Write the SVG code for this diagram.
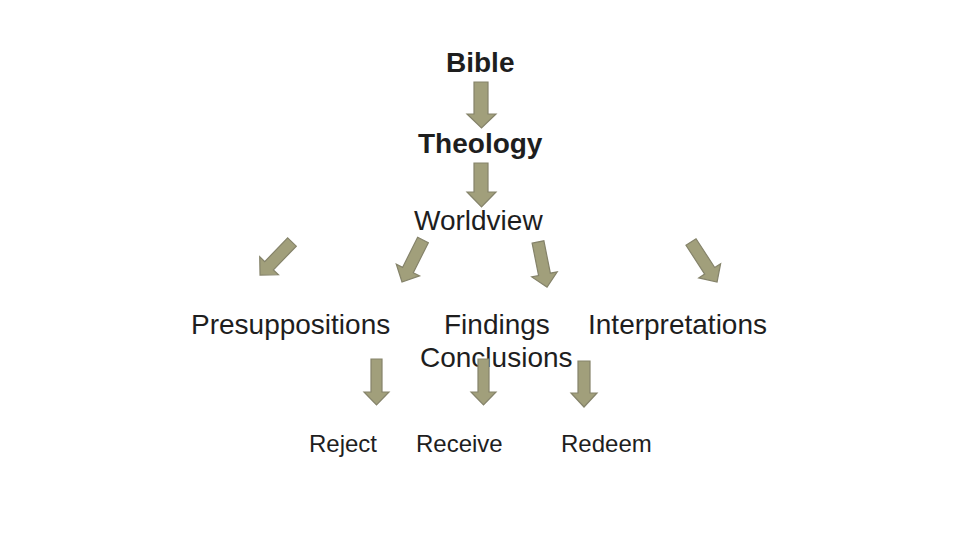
<svg xmlns="http://www.w3.org/2000/svg" width="960" height="540" viewBox="0 0 960 540">
<defs>
<style>
.t{font-family:"Liberation Sans",Arial,sans-serif;fill:#1e1e1e}
.b{font-weight:bold;font-size:28px}
.m{font-size:28px}
.s{font-size:24px}
.a{fill:#a19f7b;stroke:#85836a;stroke-width:1.2}
</style>
<polygon id="diag" points="-6,0 6,0 6,33 13,33 0,46 -13,33 -6,33"/>
</defs>
<rect width="960" height="540" fill="#fff"/>
<g id="nodes">
<g id="bible"><text class="t b" x="446" y="72">Bible</text></g>
<g id="theology"><text class="t b" x="418" y="153">Theology</text></g>
<g id="worldview"><text class="t m" x="414" y="230">Worldview</text></g>
<g id="presuppositions"><text class="t m" x="191" y="334">Presuppositions</text></g>
<g id="findings"><text class="t m" x="444" y="334">Findings</text></g>
<g id="interpretations"><text class="t m" x="588" y="334">Interpretations</text></g>
<g id="conclusions"><text class="t m" x="420" y="367">Conclusions</text></g>
<g id="reject"><text class="t s" x="309" y="452">Reject</text></g>
<g id="receive"><text class="t s" x="416" y="452">Receive</text></g>
<g id="redeem"><text class="t s" x="561" y="452">Redeem</text></g>
</g>
<g id="connectors">
<polygon class="a" points="474,82 488,82 488,114 496,114 481.5,128 467,114 474,114"/>
<polygon class="a" points="474,163 488,163 488,192 496,192 481.5,207 467,192 474,192"/>
<use href="#diag" class="a" transform="translate(292,242) rotate(44)"/>
<use href="#diag" class="a" transform="translate(423,240) rotate(26.6) scale(1,1.02)"/>
<use href="#diag" class="a" transform="translate(538,242) rotate(-11.3)"/>
<use href="#diag" class="a" transform="translate(691,242) rotate(-33) scale(1,1.04)"/>
<polygon class="a" points="371,359 382,359 382,392 389,392 376.5,405 364,392 371,392"/>
<polygon class="a" points="478,359 489,359 489,392 496,392 483.5,405 471,392 478,392"/>
<polygon class="a" points="578,361 590,361 590,393 597,393 584,407 571,393 578,393"/>
</g>
</svg>
